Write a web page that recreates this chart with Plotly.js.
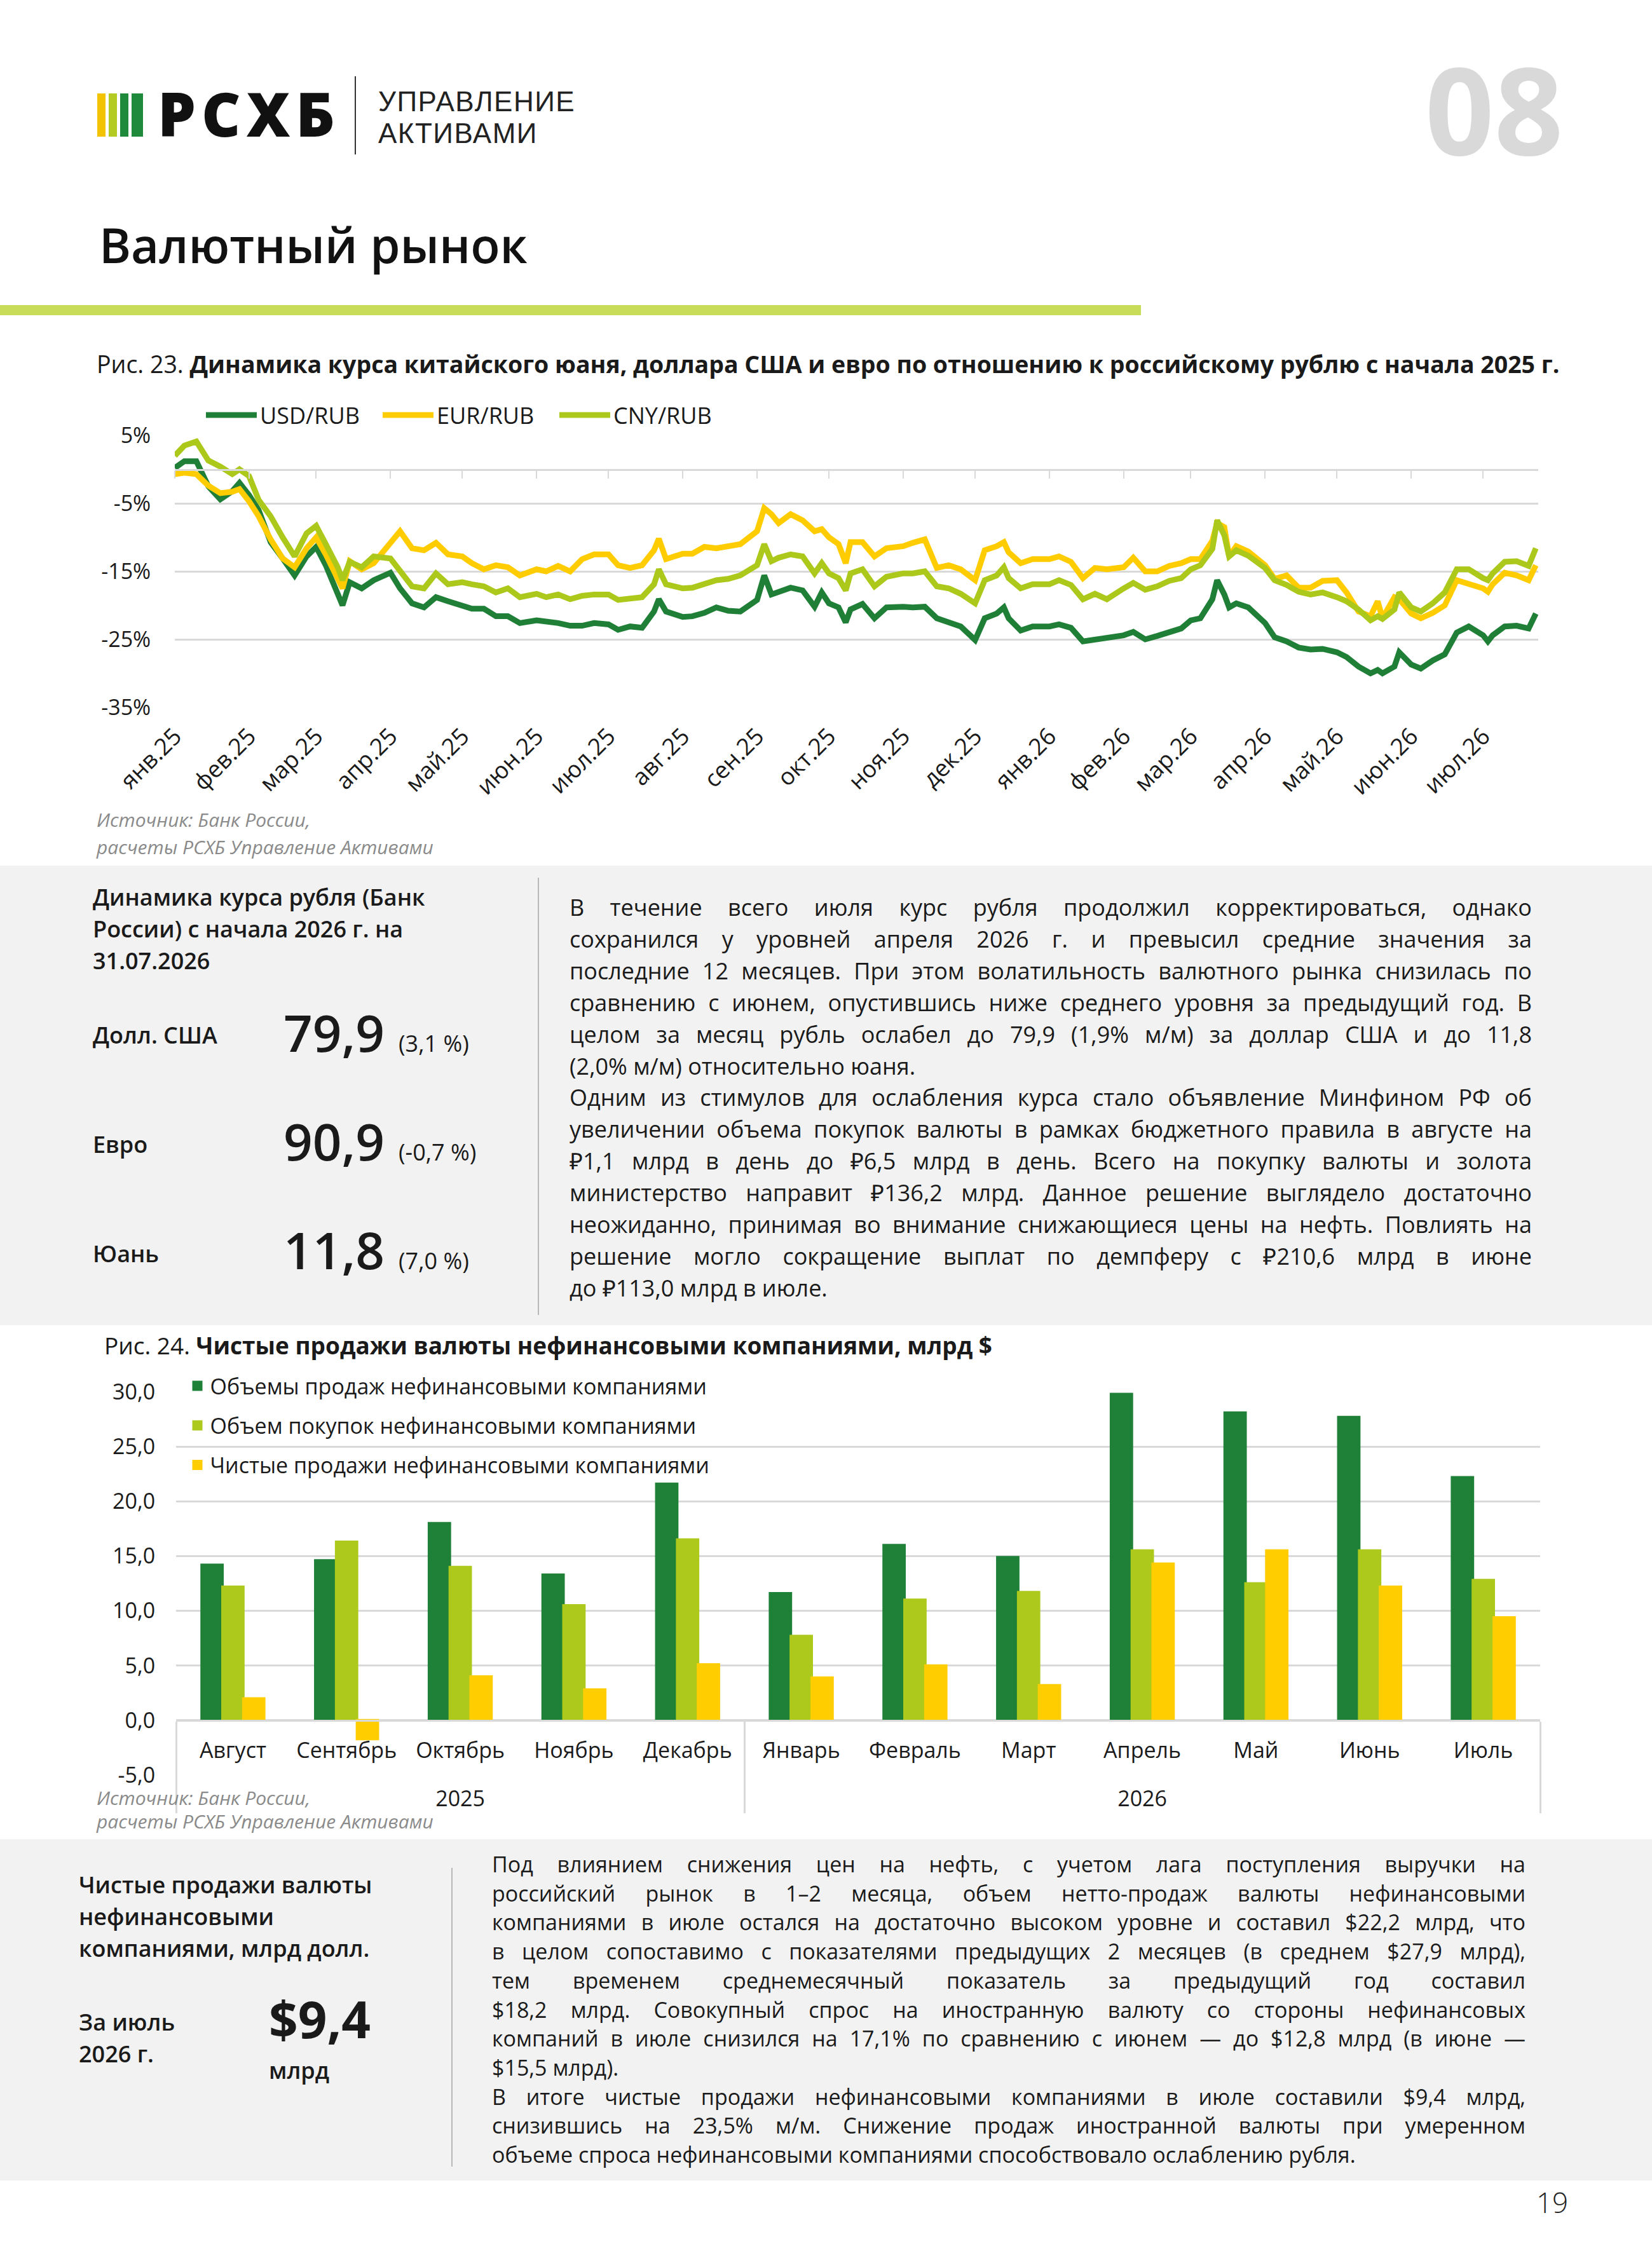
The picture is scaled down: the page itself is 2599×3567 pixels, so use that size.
<!DOCTYPE html>
<html>
<head>
<meta charset="utf-8">
<script src="https://cdn.plot.ly/plotly-3.0.1.min.js"></script>
<style>
html,body{margin:0;padding:0;background:#fff;}
body{width:2599px;height:3567px;position:relative;overflow:hidden;font-family:"Open Sans",sans-serif;color:#1a1a1a;}
.abs{position:absolute;white-space:nowrap;}
.panel{position:absolute;left:0;width:2599px;background:#f2f2f2;}
.para{position:absolute;}
.para div{text-align:justify;text-align-last:justify;}
.para div.last{text-align-last:left;}
.src{position:absolute;font-style:italic;color:#8a8a8a;font-size:30px;white-space:nowrap;z-index:5;}
.big{display:flex;align-items:baseline;position:absolute;white-space:nowrap;}
.big .n{font-size:80px;line-height:80px;font-weight:600;}
.big .p{font-size:36px;margin-left:22px;}
.lbl{position:absolute;font-size:36px;line-height:50px;font-weight:600;white-space:nowrap;}
.chart{position:absolute;left:0;width:2599px;}
</style>
</head>
<body>

<!-- header -->
<div class="abs" style="left:153px;top:147px;width:13px;height:68px;background:#f4c300"></div>
<div class="abs" style="left:171px;top:147px;width:13px;height:68px;background:#b3cb22"></div>
<div class="abs" style="left:189px;top:147px;width:13px;height:68px;background:#1f8a3b"></div>
<div class="abs" style="left:207px;top:147px;width:18px;height:68px;background:#1f8a3b"></div>
<div class="abs" style="left:248px;top:131px;font-size:95px;line-height:95px;font-weight:800;letter-spacing:9px;color:#111">РСХБ</div>
<div class="abs" style="left:558px;top:120px;width:2px;height:123px;background:#333"></div>
<div class="abs" style="left:595px;top:135px;font-family:'Liberation Sans',Arial,sans-serif;font-size:44px;line-height:49.5px;letter-spacing:1.5px;font-weight:400;color:#222">УПРАВЛЕНИЕ<br>АКТИВАМИ</div>
<div class="abs" style="left:2242px;top:76px;font-size:190px;line-height:190px;font-weight:700;color:#d9d9d9">08</div>
<div class="abs" style="left:156px;top:347px;font-size:76px;line-height:76px;font-weight:600;color:#111">Валютный рынок</div>
<div class="abs" style="left:0;top:480px;width:1795px;height:16px;background:#c8dc5a"></div>

<!-- chart 1 -->
<div class="abs" style="left:152px;top:548px;font-size:37.5px;line-height:50px">Рис. 23. <b>Динамика курса китайского юаня, доллара США и евро по отношению к российскому рублю с начала 2025 г.</b></div>
<div id="chart1" class="chart" style="top:600px;height:760px"></div>
<div class="src" style="left:152px;top:1268px;line-height:43px">Источник: Банк России,<br>расчеты РСХБ Управление Активами</div>

<!-- panel 1 -->
<div class="panel" style="top:1362px;height:723px"></div>
<div class="lbl" style="left:146px;top:1387px">Динамика курса рубля (Банк<br>России) с начала 2026 г. на<br>31.07.2026</div>
<div class="lbl" style="left:146px;top:1604px">Долл. США</div>
<div class="lbl" style="left:146px;top:1776px">Евро</div>
<div class="lbl" style="left:146px;top:1948px">Юань</div>
<div class="big" style="left:446px;top:1584px"><span class="n">79,9</span><span class="p">(3,1 %)</span></div>
<div class="big" style="left:446px;top:1755px"><span class="n">90,9</span><span class="p">(-0,7 %)</span></div>
<div class="big" style="left:446px;top:1926px"><span class="n">11,8</span><span class="p">(7,0 %)</span></div>
<div class="abs" style="left:846px;top:1381px;width:2px;height:688px;background:#b8b8b8"></div>
<div class="para" style="left:896px;top:1403px;width:1514px;font-size:36px;line-height:49.9px">
<div>В течение всего июля курс рубля продолжил корректироваться, однако</div>
<div>сохранился у уровней апреля 2026 г. и превысил средние значения за</div>
<div>последние 12 месяцев. При этом волатильность валютного рынка снизилась по</div>
<div>сравнению с июнем, опустившись ниже среднего уровня за предыдущий год. В</div>
<div>целом за месяц рубль ослабел до 79,9 (1,9% м/м) за доллар США и до 11,8</div>
<div class="last">(2,0% м/м) относительно юаня.</div>
<div>Одним из стимулов для ослабления курса стало объявление Минфином РФ об</div>
<div>увеличении объема покупок валюты в рамках бюджетного правила в августе на</div>
<div>₽1,1 млрд в день до ₽6,5 млрд в день. Всего на покупку валюты и золота</div>
<div>министерство направит ₽136,2 млрд. Данное решение выглядело достаточно</div>
<div>неожиданно, принимая во внимание снижающиеся цены на нефть. Повлиять на</div>
<div>решение могло сокращение выплат по демпферу с ₽210,6 млрд в июне</div>
<div class="last">до ₽113,0 млрд в июле.</div>
</div>

<!-- chart 2 -->
<div class="abs" style="left:164px;top:2092px;font-size:37px;line-height:50px">Рис. 24. <b>Чистые продажи валюты нефинансовыми компаниями, млрд $</b></div>
<div id="chart2" class="chart" style="top:2150px;height:730px"></div>
<div class="src" style="left:152px;top:2810px;line-height:37px">Источник: Банк России,<br>расчеты РСХБ Управление Активами</div>

<!-- panel 2 -->
<div class="panel" style="top:2894px;height:537px"></div>
<div class="lbl" style="left:124px;top:2941px">Чистые продажи валюты<br>нефинансовыми<br>компаниями, млрд долл.</div>
<div class="lbl" style="left:124px;top:3157px">За июль<br>2026 г.</div>
<div class="abs" style="left:423px;top:3136px;font-size:80px;line-height:80px;font-weight:700">$9,4</div>
<div class="lbl" style="left:423px;top:3233px">млрд</div>
<div class="abs" style="left:710px;top:2939px;width:2px;height:470px;background:#b8b8b8"></div>
<div class="para" style="left:774px;top:2911px;width:1626px;font-size:34px;line-height:45.7px">
<div>Под влиянием снижения цен на нефть, с учетом лага поступления выручки на</div>
<div>российский рынок в 1–2 месяца, объем нетто-продаж валюты нефинансовыми</div>
<div>компаниями в июле остался на достаточно высоком уровне и составил $22,2 млрд, что</div>
<div>в целом сопоставимо с показателями предыдущих 2 месяцев (в среднем $27,9 млрд),</div>
<div>тем временем среднемесячный показатель за предыдущий год составил</div>
<div>$18,2 млрд. Совокупный спрос на иностранную валюту со стороны нефинансовых</div>
<div>компаний в июле снизился на 17,1% по сравнению с июнем — до $12,8 млрд (в июне —</div>
<div class="last">$15,5 млрд).</div>
<div>В итоге чистые продажи нефинансовыми компаниями в июле составили $9,4 млрд,</div>
<div>снизившись на 23,5% м/м. Снижение продаж иностранной валюты при умеренном</div>
<div class="last">объеме спроса нефинансовыми компаниями способствовало ослаблению рубля.</div>
</div>

<div class="abs" style="left:2417px;top:3443px;font-size:44px;line-height:44px;font-weight:300;color:#222">19</div>

<script>
// ---------- Chart 1 data: % change vs start of 2025 ----------
const rateDates = [
 '2025-01-01','2025-01-05','2025-01-10','2025-01-15','2025-01-20','2025-01-25','2025-01-28',
 '2025-02-01','2025-02-05','2025-02-10','2025-02-15','2025-02-20','2025-02-25',
 '2025-03-01','2025-03-05','2025-03-10','2025-03-12','2025-03-15','2025-03-20','2025-03-25',
 '2025-04-01','2025-04-05','2025-04-10','2025-04-15','2025-04-20','2025-04-25',
 '2025-05-01','2025-05-05','2025-05-10','2025-05-15','2025-05-20','2025-05-25',
 '2025-06-01','2025-06-05','2025-06-10','2025-06-15','2025-06-20','2025-06-25',
 '2025-07-01','2025-07-05','2025-07-10','2025-07-15','2025-07-20','2025-07-22','2025-07-25',
 '2025-08-01','2025-08-05','2025-08-10','2025-08-15','2025-08-20','2025-08-25',
 '2025-09-01','2025-09-04','2025-09-07','2025-09-10','2025-09-15','2025-09-20','2025-09-25','2025-09-28',
 '2025-10-01','2025-10-05','2025-10-08','2025-10-10','2025-10-15','2025-10-20','2025-10-25',
 '2025-11-01','2025-11-05','2025-11-10','2025-11-15','2025-11-20','2025-11-25',
 '2025-12-01','2025-12-05','2025-12-10','2025-12-13','2025-12-15','2025-12-20','2025-12-25',
 '2026-01-01','2026-01-05','2026-01-10','2026-01-15','2026-01-20','2026-01-25',
 '2026-02-01','2026-02-05','2026-02-10','2026-02-15','2026-02-20','2026-02-25',
 '2026-03-01','2026-03-05','2026-03-10','2026-03-12','2026-03-15','2026-03-17','2026-03-20','2026-03-25',
 '2026-04-01','2026-04-05','2026-04-10','2026-04-15','2026-04-20','2026-04-25',
 '2026-05-01','2026-05-05','2026-05-10','2026-05-15','2026-05-18','2026-05-20','2026-05-25','2026-05-27',
 '2026-06-01','2026-06-05','2026-06-10','2026-06-15','2026-06-20','2026-06-25',
 '2026-07-01','2026-07-03','2026-07-05','2026-07-10','2026-07-15','2026-07-20','2026-07-23'
];
const usdRub = [
 0.2,1.2,1.2,-2.5,-4.4,-3.2,-2.0,
 -3.8,-6.0,-10.7,-13.1,-15.6,-12.8,
 -11.4,-14.1,-18.1,-20.0,-16.6,-17.5,-16.3,
 -15.2,-17.5,-19.7,-20.3,-18.8,-19.4,
 -20.0,-20.5,-20.5,-21.6,-21.6,-22.6,
 -22.2,-22.3,-22.6,-23.0,-23.0,-22.6,
 -22.8,-23.6,-23.1,-23.3,-20.9,-19.1,-20.9,
 -21.7,-21.6,-21.1,-20.3,-20.8,-20.9,
 -19.2,-15.6,-18.4,-18.1,-17.4,-17.8,-20.2,-18.1,
 -19.7,-20.3,-22.5,-20.6,-19.8,-21.9,-20.3,
 -20.2,-20.3,-20.2,-21.9,-22.5,-23.1,
 -25.1,-21.9,-21.2,-20.3,-21.9,-23.7,-23.1,
 -23.1,-22.8,-23.3,-25.3,-25.0,-24.8,
 -24.4,-23.9,-25.0,-24.5,-24.0,-23.4,
 -22.2,-21.9,-19.1,-16.3,-18.4,-20.3,-19.7,-20.3,
 -22.6,-24.7,-25.3,-26.2,-26.5,-26.4,
 -26.9,-27.6,-29.0,-30.0,-29.5,-30.0,-29.0,-26.9,
 -28.7,-29.3,-28.1,-27.2,-24.0,-23.1,
 -24.4,-25.3,-24.4,-23.1,-23.0,-23.4,-21.2
];
const eurRub = [
 -0.7,-0.5,-0.7,-2.4,-3.5,-3.3,-2.9,
 -4.7,-6.9,-10.3,-13.1,-14.4,-11.6,
 -10.0,-12.5,-16.3,-17.5,-13.5,-14.7,-13.8,
 -11.0,-9.1,-11.6,-11.9,-10.8,-12.5,
 -12.8,-13.8,-14.7,-14.1,-14.4,-15.6,
 -14.7,-15.0,-14.2,-15.0,-13.2,-12.5,
 -12.5,-14.1,-14.5,-14.1,-11.9,-10.2,-13.2,
 -12.4,-12.4,-11.4,-11.6,-11.3,-11.0,
 -9.1,-5.7,-6.6,-7.9,-6.6,-7.5,-9.1,-8.8,
 -10.0,-11.0,-13.8,-10.7,-10.7,-12.8,-11.6,
 -11.3,-10.8,-10.3,-14.5,-14.1,-14.7,
 -16.3,-11.9,-11.3,-10.7,-12.2,-13.8,-13.2,
 -13.2,-12.8,-13.6,-16.0,-14.5,-14.7,
 -14.4,-13.0,-15.0,-15.0,-14.2,-13.8,
 -13.2,-13.2,-10.5,-7.9,-8.5,-12.8,-11.3,-12.1,
 -14.1,-16.1,-15.6,-17.4,-17.4,-16.4,
 -16.3,-18.1,-20.9,-21.6,-19.4,-21.9,-18.8,-19.1,
 -21.2,-21.9,-21.1,-20.0,-16.3,-16.9,
 -17.5,-18.0,-16.9,-15.2,-15.6,-16.3,-14.1
];
const cnyRub = [
 2.0,3.5,4.1,1.3,0.4,-0.7,0.0,
 -1.0,-4.5,-6.9,-10.0,-12.8,-9.4,
 -8.3,-11.0,-14.4,-16.3,-13.6,-14.4,-12.8,
 -13.1,-15.0,-17.2,-17.5,-15.3,-16.9,
 -16.6,-16.9,-17.2,-18.1,-17.5,-18.8,
 -18.3,-18.8,-18.4,-19.1,-18.6,-18.4,
 -18.4,-19.2,-18.9,-18.8,-16.9,-14.7,-16.9,
 -17.5,-17.4,-16.9,-16.3,-16.1,-15.6,
 -14.1,-11.0,-13.5,-13.0,-12.5,-12.8,-15.3,-13.8,
 -15.3,-16.0,-17.8,-15.3,-14.7,-17.2,-15.8,
 -15.3,-15.3,-15.0,-17.2,-17.5,-18.3,
 -19.7,-16.3,-15.6,-14.4,-16.0,-17.5,-16.9,
 -16.9,-16.3,-17.0,-19.1,-18.3,-19.1,
 -17.5,-16.7,-17.7,-17.2,-16.4,-16.0,
 -14.7,-14.1,-11.7,-7.5,-9.7,-12.8,-11.9,-12.7,
 -14.5,-16.3,-17.0,-18.0,-18.4,-18.1,
 -18.8,-19.4,-20.6,-22.2,-21.6,-22.0,-20.6,-18.1,
 -20.3,-20.9,-19.7,-18.1,-14.7,-14.7,
 -16.0,-16.3,-15.3,-13.6,-13.5,-14.2,-11.6
];
const monthTicks = ['2025-01-01','2025-02-01','2025-03-01','2025-04-01','2025-05-01','2025-06-01','2025-07-01','2025-08-01','2025-09-01','2025-10-01','2025-11-01','2025-12-01','2026-01-01','2026-02-01','2026-03-01','2026-04-01','2026-05-01','2026-06-01','2026-07-01'];
const monthLabels = ['янв.25','фев.25','мар.25','апр.25','май.25','июн.25','июл.25','авг.25','сен.25','окт.25','ноя.25','дек.25','янв.26','фев.26','мар.26','апр.26','май.26','июн.26','июл.26'];
const pctTicks = [5,-5,-15,-25,-35];
const pctLabels = ['5%','-5%','-15%','-25%','-35%'];

// ---------- Chart 2 data ----------
const saleYears = ['2025','2025','2025','2025','2025','2026','2026','2026','2026','2026','2026','2026'];
const saleMonths = ['Август','Сентябрь','Октябрь','Ноябрь','Декабрь','Январь','Февраль','Март','Апрель','Май','Июнь','Июль'];
const salesVolume = [14.2,14.6,18.0,13.3,21.6,11.6,16.0,14.9,29.8,28.1,27.7,22.2];
const purchaseVolume = [12.2,16.3,14.0,10.5,16.5,7.7,11.0,11.7,15.5,12.5,15.5,12.8];
const netSales = [2.0,-1.7,4.0,2.8,5.1,3.9,5.0,3.2,14.3,15.5,12.2,9.4];
const valTicks = [-5,0,5,10,15,20,25,30];
const valLabels = ['-5,0','0,0','5,0','10,0','15,0','20,0','25,0','30,0'];

const FONT = '"Open Sans", sans-serif';
const GRID = '#d9d9d9';

Plotly.newPlot('chart1', [
  {x: rateDates, y: usdRub, name: 'USD/RUB', type: 'scatter', mode: 'lines', line: {color: '#1f7f37', width: 9}},
  {x: rateDates, y: eurRub, name: 'EUR/RUB', type: 'scatter', mode: 'lines', line: {color: '#ffcc00', width: 9}},
  {x: rateDates, y: cnyRub, name: 'CNY/RUB', type: 'scatter', mode: 'lines', line: {color: '#acc81a', width: 9}, xaxis: 'x2'}
], {
  width: 2599, height: 760,
  margin: {l: 275, r: 179, t: 85, b: 247, pad: 0, autoexpand: false},
  paper_bgcolor: 'rgba(0,0,0,0)', plot_bgcolor: 'rgba(0,0,0,0)',
  font: {family: FONT, size: 34, color: '#1a1a1a'},
  showlegend: true,
  legend: {orientation: 'h', x: 0.0205, xanchor: 'left', y: 1.0748, yanchor: 'middle',
           font: {size: 36}, itemwidth: 80, entrywidth: 183, entrywidthmode: 'pixels',
           bgcolor: 'rgba(0,0,0,0)'},
  xaxis: {type: 'date', range: ['2025-01-01', '2026-07-24'], tickmode: 'array',
          tickvals: monthTicks, ticktext: monthLabels, tickangle: -45,
          ticks: 'outside', ticklen: 8, tickcolor: 'rgba(0,0,0,0)',
          showgrid: false, zeroline: false, showline: false, automargin: false,
          tickfont: {size: 37}},
  xaxis2: {type: 'date', matches: 'x', overlaying: 'x', anchor: 'free', position: 0.875, side: 'bottom',
           tickmode: 'array', tickvals: monthTicks, ticks: 'outside', ticklen: 12, tickwidth: 2,
           tickcolor: GRID, showticklabels: false, showline: true, linecolor: GRID, linewidth: 3,
           showgrid: false, zeroline: false},
  yaxis: {range: [-35, 5], tickmode: 'array', tickvals: pctTicks, ticktext: pctLabels,
          showgrid: true, gridcolor: GRID, gridwidth: 3, zeroline: false, showline: false,
          ticks: 'outside', ticklen: 30, tickcolor: 'rgba(0,0,0,0)', automargin: false,
          tickfont: {size: 34}}
}, {displayModeBar: false, staticPlot: true});

// year row of the two-level category axis sits one line lower, as in the original table-style axis
const yearRow = saleYears.map(function (y) { return '<br>' + y; });

Plotly.newPlot('chart2', [
  {x: [yearRow, saleMonths], y: salesVolume, name: 'Объемы продаж нефинансовыми компаниями',
   type: 'bar', marker: {color: '#1f8038', line: {color: '#1f8038', width: 4}}, legendgroup: 'a'},
  {x: [yearRow, saleMonths], y: purchaseVolume, name: 'Объем покупок нефинансовыми компаниями',
   type: 'bar', marker: {color: '#adc91b', line: {color: '#adc91b', width: 4}}, legendgroup: 'b'},
  {x: [yearRow, saleMonths], y: netSales, name: 'Чистые продажи нефинансовыми компаниями',
   type: 'bar', marker: {color: '#ffcd00', line: {color: '#ffcd00', width: 4}}, legendgroup: 'c'}
], {
  width: 2599, height: 730,
  margin: {l: 277, r: 176, t: 40, b: 87, pad: 0, autoexpand: false},
  paper_bgcolor: 'rgba(0,0,0,0)', plot_bgcolor: 'rgba(0,0,0,0)',
  font: {family: FONT, size: 34, color: '#1a1a1a'},
  barmode: 'group', bargap: 0.45, bargroupgap: 0,
  showlegend: true,
  legend: {orientation: 'v', x: 0.0063, xanchor: 'left', y: 1.063, yanchor: 'top',
           font: {size: 34}, tracegroupgap: 15, bgcolor: 'rgba(0,0,0,0)', traceorder: 'grouped'},
  xaxis: {type: 'multicategory', anchor: 'free', position: 5 / 35, showline: true, linecolor: GRID,
          linewidth: 3, showdividers: true, dividercolor: GRID, dividerwidth: 3, ticks: '',
          ticklabelstandoff: 16,
          showgrid: false, zeroline: false, automargin: false, tickfont: {size: 34}},
  yaxis: {range: [-5, 30], tickmode: 'array', tickvals: valTicks, ticktext: valLabels,
          showgrid: true, gridcolor: GRID, gridwidth: 3, zeroline: false, showline: false,
          ticks: 'outside', ticklen: 25, tickcolor: 'rgba(0,0,0,0)', automargin: false,
          tickfont: {size: 34}}
}, {displayModeBar: false, staticPlot: true});
</script>
</body>
</html>
